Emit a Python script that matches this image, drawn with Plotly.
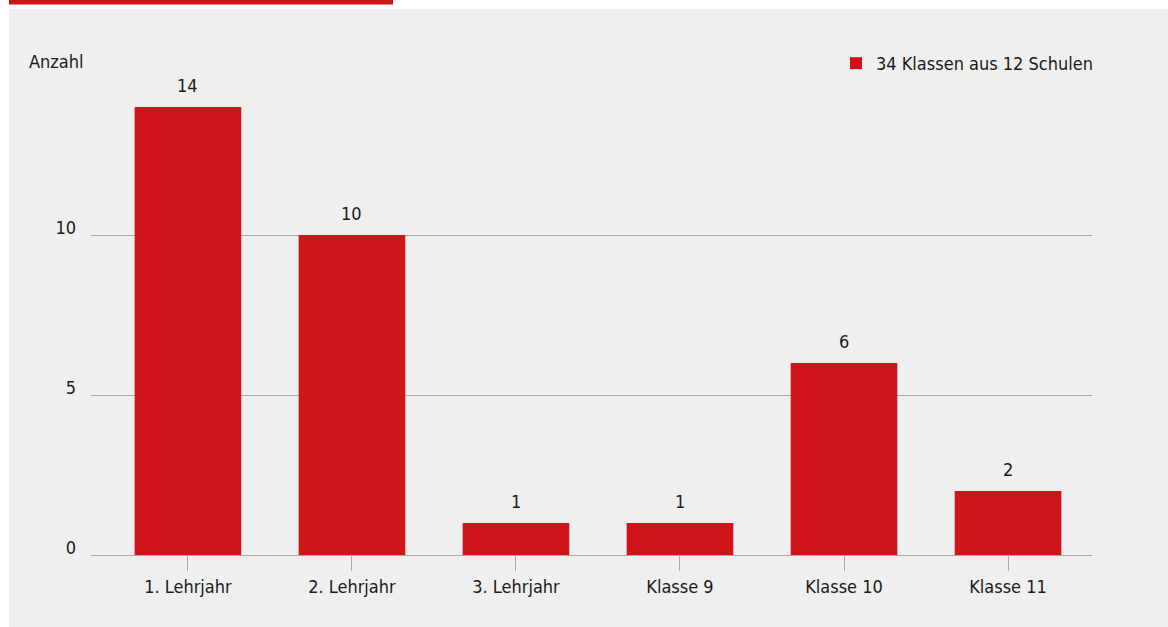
import plotly.graph_objects as go

# Data
categories = ["1. Lehrjahr", "2. Lehrjahr", "3. Lehrjahr", "Klasse 9", "Klasse 10", "Klasse 11"]
counts = [14, 10, 1, 1, 6, 2]
series_name = "34 Klassen aus 12 Schulen"
y_ticks = [0, 5, 10]
y_title = "Anzahl"

# Style
FONT = "DejaVu Sans Condensed, Liberation Sans Narrow, Arial Narrow, sans-serif"
FS = 18
RED = "#CF1519"
PANEL = "#EFEFEF"
GRID = "#A9A9A9"
TEXT = "#1A1A1A"

W, H = 1168, 627
L, R, T, B = 91, 1168 - 1092, 75, 627 - 555
PW, PH = W - L - R, H - T - B


def px_x(p):
    return (p - L) / PW


def px_y(p):
    return (H - B - p) / PH


fig = go.Figure()
fig.add_trace(go.Bar(
    x=categories,
    y=counts,
    name=series_name,
    marker=dict(color=RED, line=dict(width=0)),
    width=0.65,
    showlegend=True,
))

# value labels above the bars
for c, v in zip(categories, counts):
    fig.add_annotation(
        x=c, y=v, text=str(v), showarrow=False,
        xanchor="center", yanchor="bottom", yshift=9,
        font=dict(family=FONT, size=FS, color=TEXT),
    )

# axis caption
fig.add_annotation(
    xref="paper", yref="paper", x=px_x(27), y=px_y(61),
    text=y_title, showarrow=False, xanchor="left", yanchor="middle",
    font=dict(family=FONT, size=FS, color=TEXT),
)

# grey panel and red header strip
fig.add_shape(type="rect", xref="paper", yref="paper", layer="below",
              x0=px_x(9), x1=px_x(1168), y0=px_y(627), y1=px_y(9),
              fillcolor=PANEL, line=dict(width=0))
fig.add_shape(type="rect", xref="paper", yref="paper", layer="below",
              x0=px_x(9), x1=px_x(393), y0=px_y(4.5), y1=px_y(0),
              fillcolor=RED, line=dict(width=0))

fig.update_layout(
    width=W, height=H,
    margin=dict(l=L, r=R, t=T, b=B, pad=0),
    paper_bgcolor="white",
    plot_bgcolor=PANEL,
    font=dict(family=FONT, size=FS, color=TEXT),
    bargap=0.35,
    legend=dict(
        x=px_x(836), y=px_y(45), xanchor="left", yanchor="top",
        bgcolor="rgba(0,0,0,0)", borderwidth=0,
        font=dict(family=FONT, size=FS, color=TEXT),
    ),
)

fig.update_xaxes(
    type="category",
    range=[-0.591, 5.512],
    showline=True, linecolor=GRID, linewidth=1,
    ticks="outside", ticklen=15, tickcolor=GRID, tickwidth=1,
    tickfont=dict(family=FONT, size=FS, color=TEXT),
    showgrid=False, zeroline=False,
)

fig.update_yaxes(
    range=[0, 15],
    tickvals=y_ticks,
    showgrid=True, gridcolor=GRID, gridwidth=1,
    zeroline=False, showline=False, ticks="",
    ticklabelstandoff=14,
    ticklabelshift=-7,
    tickfont=dict(family=FONT, size=FS, color=TEXT),
)

fig.write_html("out.html")
